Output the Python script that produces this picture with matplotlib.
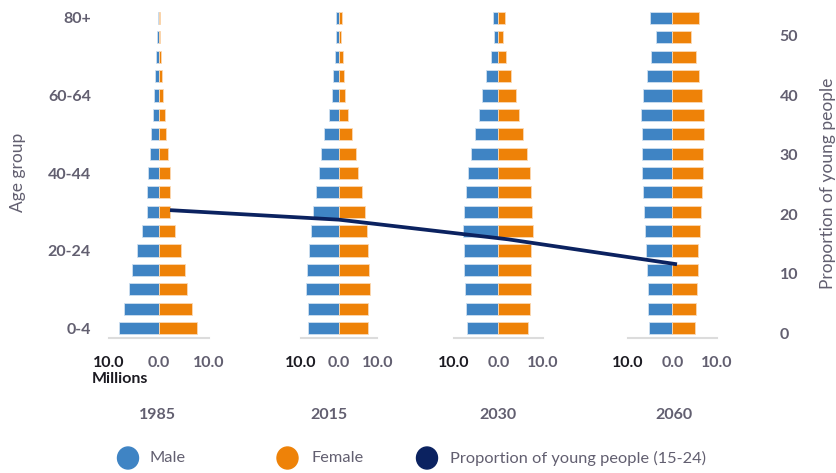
import matplotlib
matplotlib.use("Agg")
import matplotlib.pyplot as plt
from matplotlib.patches import Ellipse
import numpy as np

plt.rcParams['font.family'] = ['Lato', 'DejaVu Sans']

# ---------------- data ----------------
age_groups = ['0-4', '5-9', '10-14', '15-19', '20-24', '25-29', '30-34', '35-39',
              '40-44', '45-49', '50-54', '55-59', '60-64', '65-69', '70-74', '75-79', '80+']
years = ['1985', '2015', '2030', '2060']

male_1985 = [8.0, 6.93, 5.93, 5.33, 4.47, 3.33, 2.33, 2.33, 2.2, 1.87, 1.53, 1.27, 1.0, 0.73, 0.53, 0.4, 0.27]
female_1985 = [7.67, 6.6, 5.6, 5.2, 4.33, 3.13, 2.2, 2.27, 2.13, 1.73, 1.4, 1.13, 0.87, 0.6, 0.33, 0.2, 0.13]

male_2015 = [8.0, 8.1, 8.6, 8.4, 7.9, 7.4, 6.75, 6.0, 5.1, 4.6, 3.9, 2.7, 1.8, 1.5, 1.1, 0.8, 0.8]
female_2015 = [7.5, 7.7, 8.1, 7.9, 7.5, 7.4, 6.9, 6.1, 5.0, 4.5, 3.5, 2.4, 1.6, 1.3, 1.05, 0.6, 0.7]

male_2030 = [7.0, 7.4, 7.6, 7.7, 7.7, 7.9, 7.7, 7.2, 6.8, 6.2, 5.3, 4.4, 3.8, 2.9, 1.7, 0.9, 1.3]
female_2030 = [6.7, 7.1, 7.3, 7.4, 7.4, 7.7, 7.6, 7.4, 7.0, 6.5, 5.6, 4.6, 4.0, 2.9, 1.65, 0.9, 1.35]

male_2060 = [5.2, 5.4, 5.6, 5.8, 6.0, 6.1, 6.4, 6.6, 6.9, 6.9, 6.9, 7.0, 6.6, 5.7, 4.75, 3.7, 5.1]
female_2060 = [5.1, 5.3, 5.5, 5.7, 5.8, 6.1, 6.4, 6.7, 6.9, 6.9, 7.0, 7.1, 6.7, 6.0, 5.2, 4.15, 6.0]

young_share = [20.7, 19.1, 15.8, 11.6]

x_ticks = [-10, 0, 10]
x_tick_labels = ['10.0', '0.0', '10.0']
age_tick_idx = [0, 4, 8, 12, 16]
share_ticks = [0, 10, 20, 30, 40, 50]

males = [male_1985, male_2015, male_2030, male_2060]
females = [female_1985, female_2015, female_2030, female_2060]

# ---------------- style ----------------
W, H = 837, 473
BLUE = '#3f84c4'
ORANGE = '#ee8208'
NAVY = '#0b2260'
GRAY = '#625f70'
BLACK = '#1c1b22'
AXLINE = '#dcdcdc'

fig = plt.figure(figsize=(W / 100, H / 100), dpi=100)


def px(x0, x1, ytop, ybot):
    return [x0 / W, 1 - ybot / H, (x1 - x0) / W, (ybot - ytop) / H]


panel_x = [(109, 209), (300.7, 377.3), (454, 543), (628, 717)]
year_label_x = [157.5, 329, 498, 673.5]
ytop, ybot = 8.3, 337.7

y = np.arange(len(age_groups))
for i, (x0, x1) in enumerate(panel_x):
    ax = fig.add_axes(px(x0, x1, ytop, ybot))
    ax.barh(y, -np.array(males[i]), height=0.62, color=BLUE,
            edgecolor='#cfe0f0', linewidth=0.6)
    ax.barh(y, np.array(females[i]), height=0.62, color=ORANGE,
            edgecolor='#fbd9b3', linewidth=0.6)
    ax.set_xlim(-10, 10)
    ax.set_ylim(-0.5, len(age_groups) - 0.5)
    for s in ['top', 'right', 'left']:
        ax.spines[s].set_visible(False)
    ax.spines['bottom'].set_color(AXLINE)
    ax.spines['bottom'].set_linewidth(1.5)
    ax.set_xticks(x_ticks)
    ax.set_xticklabels(x_tick_labels, fontsize=11.5, fontweight='bold', color=GRAY)
    ax.get_xticklabels()[0].set_color(BLACK)
    ax.tick_params(axis='x', length=0, pad=13)
    if i == 0:
        ax.set_yticks(age_tick_idx)
        ax.set_yticklabels([age_groups[k] for k in age_tick_idx], fontsize=11.5,
                           fontweight='bold', color=GRAY)
        ax.tick_params(axis='y', length=0, pad=13)
    else:
        ax.set_yticks([])
    ax.patch.set_alpha(0)
    fig.text(year_label_x[i] / W, 1 - 415 / H, years[i], ha='center', va='center',
             fontsize=11.5, fontweight='bold', color=GRAY)

# line on overlay axes
axl = fig.add_axes(px(85.5, 761.5, 6.1, 333.3))
axl.patch.set_alpha(0)
axl.plot(np.arange(len(years)), young_share, color=NAVY, linewidth=2.7,
         solid_capstyle='butt')
axl.set_xlim(-0.5, 3.5)
axl.set_ylim(0, 55)
axl.set_xticks([])
axl.yaxis.tick_right()
axl.set_yticks(share_ticks)
axl.set_yticklabels([str(t) for t in share_ticks], fontsize=11.5, fontweight='bold',
                    color=GRAY)
axl.tick_params(axis='y', length=0, pad=13)
for s in axl.spines.values():
    s.set_visible(False)

# axis titles
fig.text(18 / W, 1 - 172 / H, 'Age group', rotation=90, ha='center', va='center',
         fontsize=12.5, color=GRAY)
fig.text(828 / W, 1 - 183 / H, 'Proportion of young people', rotation=90,
         ha='center', va='center', fontsize=12.5, color=GRAY)
fig.text(92 / W, 1 - 379 / H, 'Millions', ha='left', va='center', fontsize=11.5,
         fontweight='bold', color=BLACK)

# legend
axg = fig.add_axes([0, 0, 1, 1])
axg.set_xlim(0, W)
axg.set_ylim(H, 0)
axg.axis('off')
legend_items = [('Male', BLUE, 128, 150), ('Female', ORANGE, 287.5, 312),
                ('Proportion of young people (15-24)', NAVY, 427, 450)]
for label, col, cx, tx in legend_items:
    axg.add_patch(Ellipse((cx, 458), 21, 22, color=col))
    axg.text(tx, 458, label, ha='left', va='center', fontsize=11.8, color=GRAY)

fig.savefig('out.png', dpi=100)
